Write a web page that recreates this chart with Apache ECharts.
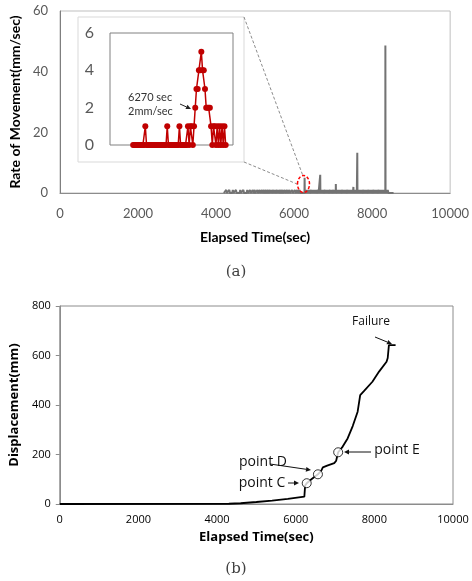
<!DOCTYPE html>
<html lang="en">
<head>
<meta charset="utf-8">
<title>Rate of movement and displacement</title>
<script src="https://cdn.jsdelivr.net/npm/echarts@6/dist/echarts.min.js"></script>
<style>
  html, body { margin: 0; padding: 0; background: #fff; }
  #chart { width: 472px; height: 581px; }
</style>
</head>
<body>
<div id="chart"></div>
<script>
// (a) gray trace: rate of movement (mm/sec) over elapsed time (sec)
var traceStart = 4200, traceEnd = 8550;
var flickerTimes = [4260, 4340, 4430, 4510, 4620, 4700, 4800, 4870, 4940, 4990, 5060, 5120,
  5180, 5230, 5280, 5330, 5380, 5420, 5470, 5510, 5560, 5600, 5650, 5700, 5760, 5820,
  5880, 5950, 6020, 6080, 6140, 6310, 6350, 6390, 6440, 6480, 6520, 6560, 6610, 6700,
  6740, 6790, 6830, 6870, 6920, 6960, 7010, 7050, 7110, 7150, 7190, 7240, 7280, 7320,
  7370, 7410, 7450, 7490, 7550, 7590, 7650, 7690, 7730, 7780, 7820, 7860, 7910, 7950,
  7990, 8040, 8080, 8120, 8170, 8210, 8250, 8290, 8320, 8370, 8400];
var flickerRate = 1;
var peakTimes = [6270, 6670, 7070, 7520, 7620, 8340];
var peakRates = [5, 6, 3, 2, 13.3, 48.6];

// (a) inset: zoom on the samples around 6270 sec
var insetRates = [0, 0, 0, 0, 0, 0, 0, 0, 0, 0,
  1, 0, 0, 0, 0, 0, 0, 0, 0, 0, 0, 0, 0, 0, 0, 0, 0, 0,
  1, 0, 0, 0, 0, 0, 0, 0, 0, 0,
  1, 0, 0, 0, 0, 0, 0,
  1, 0, 1, 1, 0, 1, 2, 3, 3, 4, 4, 5, 4, 4, 3, 2, 2, 2, 2,
  1, 0, 1, 1, 0, 1, 0, 1, 0, 1, 0, 1, 0];

// (b) displacement (mm) over elapsed time (sec)
var dispTimes = [0, 4300, 4600, 5000, 5400, 5800, 6220, 6240, 6280, 6400, 6565, 6650, 6690,
  6800, 6980, 7030, 7050, 7080, 7195, 7320, 7450, 7575, 7640, 7740, 7950, 8120, 8310,
  8340, 8370, 8540];
var dispValues = [0, 1, 3, 8, 14, 21, 30, 75, 84, 100, 120, 135, 148,
  155, 165, 175, 190, 209, 232, 265, 315, 373, 440, 457, 494, 535, 575,
  590, 642, 642];
var markNames = ['point C', 'point D', 'point E'];
var markTimes = [6280, 6565, 7080];
var markDisp = [84, 120, 209];

// build the spike trace
var spikes = [];
flickerTimes.forEach(function (t) { spikes.push([t, flickerRate, 18]); });
peakTimes.forEach(function (t, i) { spikes.push([t, peakRates[i], 4]); });
spikes.sort(function (a, b) { return a[0] - b[0]; });
var trace = [[traceStart, 0]];
spikes.forEach(function (s) {
  trace.push([s[0] - s[2], 0], [s[0], s[1]], [s[0] + s[2], 0]);
});
trace.push([traceEnd, 0]);

var inset = insetRates.map(function (v, i) { return [i, v]; });
var disp = dispTimes.map(function (t, i) { return [t, dispValues[i]]; });
var marks = markTimes.map(function (t, i) { return [t, markDisp[i]]; });

function arrow(x1, y1, x2, y2, color) {
  var a = Math.atan2(y2 - y1, x2 - x1), L = 5, W = 2.4;
  var bx = x2 - L * Math.cos(a), by = y2 - L * Math.sin(a);
  return [
    { type: 'line', shape: { x1: x1, y1: y1, x2: bx, y2: by }, style: { stroke: color, lineWidth: 1 }, z: 10 },
    { type: 'polygon', shape: { points: [[x2, y2], [bx + W * Math.sin(a), by - W * Math.cos(a)], [bx - W * Math.sin(a), by + W * Math.cos(a)]] },
      style: { fill: color }, z: 10 }
  ];
}
function label(text, x, y, font, color, align) {
  return { type: 'text', x: x, y: y, z: 10,
    style: { text: text, font: font, fill: color, align: align || 'center', verticalAlign: 'middle' } };
}
function plain(v) { return String(v); }

var topFont = 'Lato';
var botFont = 'Open Sans';

var graphics = [
  { type: 'rect', shape: { x: 78, y: 17, width: 166, height: 145 }, style: { fill: 'none', stroke: '#d9d9d9', lineWidth: 1 }, z: 1 },
  { type: 'line', shape: { x1: 244, y1: 17, x2: 303, y2: 176 }, style: { stroke: '#8c8c8c', lineWidth: 1, lineDash: [3, 2] }, z: 1 },
  { type: 'line', shape: { x1: 244, y1: 162, x2: 297, y2: 184 }, style: { stroke: '#8c8c8c', lineWidth: 1, lineDash: [3, 2] }, z: 1 },
  { type: 'ellipse', shape: { cx: 303.5, cy: 184, rx: 6, ry: 8.5 }, style: { fill: 'none', stroke: '#ff0000', lineWidth: 1.5, lineDash: [3, 2] }, z: 10 },
  label('6270 sec', 128, 97, '11px ' + topFont, '#333', 'left'),
  label('2mm/sec', 128, 111, '11px ' + topFont, '#333', 'left'),
  label('(a)', 236, 272, '15px "DejaVu Serif"', '#404040'),
  label('(b)', 236, 569, '15px "DejaVu Serif"', '#404040'),
  label('Failure', 371, 322, '12px ' + botFont, '#111'),
  label('point C', 262, 483, '14px ' + botFont, '#111'),
  label('point D', 263, 462, '14px ' + botFont, '#111'),
  label('point E', 397, 450, '14px ' + botFont, '#111')
].concat(
  arrow(180, 104, 191, 109, '#222'),
  arrow(375, 337, 392, 344, '#111'),
  arrow(288, 483, 299, 483, '#111'),
  arrow(270, 464, 311, 470, '#111'),
  arrow(371, 452, 344, 452, '#111')
);

var chart = echarts.init(document.getElementById('chart'), null, { renderer: 'canvas' });
chart.setOption({
  backgroundColor: '#fff',
  animation: false,
  grid: [
    { left: 54, top: 11, width: 399, height: 182, show: true, borderColor: '#bfbfbf', borderWidth: 1 },
    { left: 110, top: 33, width: 123, height: 112, show: true, borderColor: '#808080', borderWidth: 1 },
    { left: 56, top: 306, width: 397, height: 198, show: true, borderColor: '#8c8c8c', borderWidth: 1 }
  ],
  xAxis: [
    { gridIndex: 0, type: 'value', min: 0, max: 10000, interval: 2000,
      name: 'Elapsed Time(sec)', nameLocation: 'middle', nameGap: 37,
      nameTextStyle: { fontFamily: topFont, fontWeight: 'bold', fontSize: 14, color: '#000' },
      axisLine: { lineStyle: { color: '#8c8c8c' } }, axisTick: { show: false },
      axisLabel: { margin: 14, fontFamily: topFont, fontSize: 13, color: '#595959', formatter: plain },
      splitLine: { show: false } },
    { gridIndex: 1, type: 'value', min: -19, max: 82, show: false, splitLine: { show: false } },
    { gridIndex: 2, type: 'value', min: 0, max: 10000, interval: 2000,
      name: 'Elapsed Time(sec)', nameLocation: 'middle', nameGap: 27,
      nameTextStyle: { fontFamily: botFont, fontWeight: 'bold', fontSize: 13, color: '#000' },
      axisLine: { lineStyle: { color: '#8c8c8c' } }, axisTick: { show: false },
      axisLabel: { margin: 10, fontFamily: botFont, fontSize: 11, color: '#000', formatter: plain },
      splitLine: { show: false } }
  ],
  yAxis: [
    { gridIndex: 0, type: 'value', min: 0, max: 60, interval: 20,
      name: 'Rate of Movement(mm/sec)', nameLocation: 'middle', nameGap: 33,
      nameTextStyle: { fontFamily: topFont, fontWeight: 'bold', fontSize: 14, color: '#000' },
      axisLine: { show: true, lineStyle: { color: '#7f7f7f' } }, axisTick: { show: false },
      axisLabel: { margin: 12, fontFamily: topFont, fontSize: 13, color: '#595959' },
      splitLine: { show: false } },
    { gridIndex: 1, type: 'value', min: 0, max: 6, interval: 2,
      axisLine: { show: false }, axisTick: { show: false },
      axisLabel: { margin: 16, fontFamily: topFont, fontSize: 16, color: '#595959' },
      splitLine: { show: false } },
    { gridIndex: 2, type: 'value', min: 0, max: 800, interval: 200,
      name: 'Displacement(mm)', nameLocation: 'middle', nameGap: 37,
      nameTextStyle: { fontFamily: botFont, fontWeight: 'bold', fontSize: 13, color: '#000' },
      axisLine: { show: true, lineStyle: { color: '#8c8c8c' } },
      axisTick: { show: true, inside: false, length: 4, lineStyle: { color: '#8c8c8c' } },
      axisLabel: { margin: 9, fontFamily: botFont, fontSize: 11, color: '#000' },
      splitLine: { show: false } }
  ],
  series: [
    { type: 'line', xAxisIndex: 0, yAxisIndex: 0, data: trace, showSymbol: false,
      lineStyle: { color: '#737373', width: 2 }, z: 3 },
    { type: 'line', xAxisIndex: 1, yAxisIndex: 1, data: inset, symbol: 'circle', symbolSize: 6,
      itemStyle: { color: '#c00000' }, lineStyle: { color: '#c00000', width: 1.5 }, z: 3 },
    { type: 'line', xAxisIndex: 2, yAxisIndex: 2, data: disp, showSymbol: false,
      lineStyle: { color: '#000', width: 1.8 }, z: 3 },
    { type: 'scatter', xAxisIndex: 2, yAxisIndex: 2, data: marks, symbol: 'circle', symbolSize: 9,
      itemStyle: { color: '#fff', borderColor: '#000', borderWidth: 1 }, z: 4 }
  ],
  graphic: graphics
});
</script>
</body>
</html>
